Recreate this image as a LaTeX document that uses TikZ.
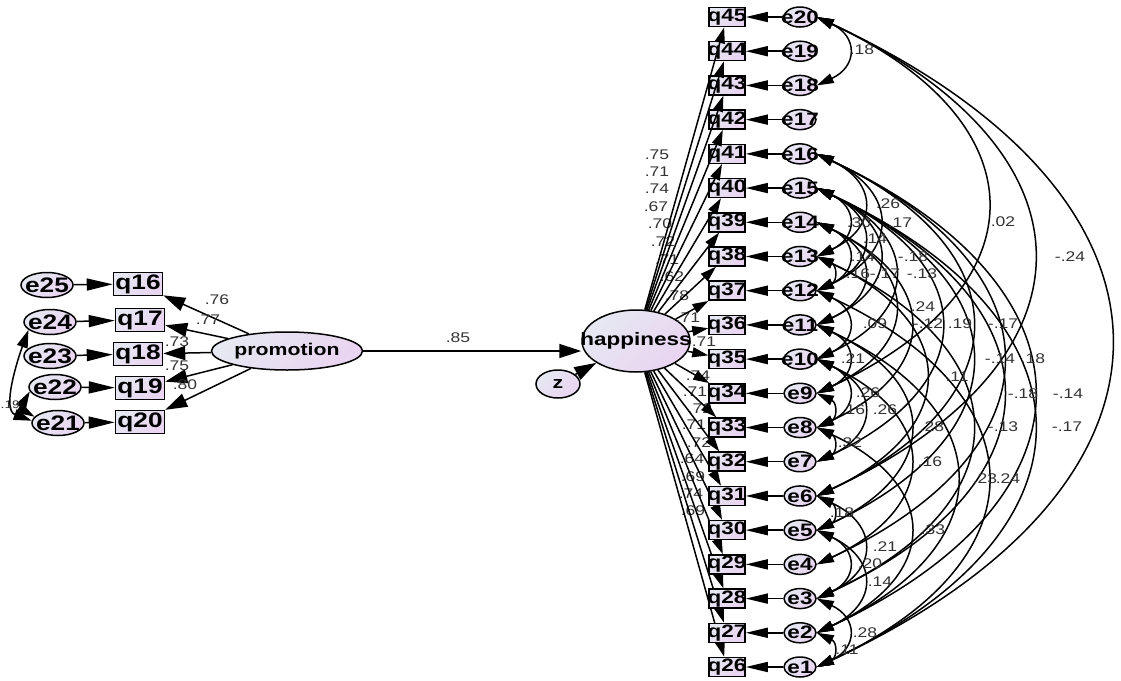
\documentclass[tikz,border=0pt]{standalone}
\usepackage{fontspec}
\setmainfont{Liberation Sans}[FakeStretch=1.25]
\usetikzlibrary{arrows.meta,shapes.geometric}
\definecolor{gA}{HTML}{E6E8F2}
\definecolor{gB}{HTML}{E9D4F1}
\begin{document}
\begin{tikzpicture}[x=1pt,y=-1pt,line width=1.5pt,
  shadefill/.style={left color=gA,right color=gB,shading angle=45},
  lat/.style={ellipse,draw,shadefill,inner sep=0pt,font=\fontsize{17}{17}\selectfont\bfseries},
  obsL/.style={rectangle,draw,shadefill,minimum width=49pt,minimum height=23pt,inner sep=0pt,font=\fontsize{21}{21}\selectfont\bfseries},
  errL/.style={ellipse,draw,shadefill,minimum width=52pt,minimum height=25pt,inner sep=0pt,font=\fontsize{21}{21}\selectfont\bfseries},
  obsR/.style={rectangle,draw,shadefill,minimum width=36pt,minimum height=19pt,inner sep=0pt,font=\fontsize{18}{18}\selectfont\bfseries},
  errR/.style={ellipse,draw,shadefill,minimum width=32pt,minimum height=20pt,inner sep=0pt,font=\fontsize{18}{18}\selectfont\bfseries},
  lbl/.style={inner sep=0pt,font=\fontsize{14}{14}\selectfont,text=black!80},
  ldL/.style={-{Triangle[length=22pt,width=14pt]}},
  erL/.style={-{Triangle[length=26pt,width=12pt]}},
  ldR/.style={-{Triangle[length=16pt,width=10pt]}},
  erR/.style={-{Triangle[length=22pt,width=10pt]}},
  cv/.style={{Triangle[length=17pt,width=10pt]}-{Triangle[length=17pt,width=10pt]}},
  cvL/.style={{Triangle[length=18pt,width=11pt]}-{Triangle[length=18pt,width=11pt]}}
]
\useasboundingbox (0,0) rectangle (1121,680);

% ---------- left part ----------
\node[lat,minimum width=151pt,minimum height=38pt] (prom) at (287,351) {\makebox[0pt]{promotion}};
\node[obsL] (q16) at (138,284) {\makebox[0pt]{q16}};
\node[obsL] (q17) at (140,320) {\makebox[0pt]{q17}};
\node[obsL] (q18) at (138,354) {\makebox[0pt]{q18}};
\node[obsL] (q19) at (140,388) {\makebox[0pt]{q19}};
\node[obsL] (q20) at (140,422) {\makebox[0pt]{q20}};
\node[errL] (e25) at (47,285) {\makebox[0pt]{e25}};
\node[errL] (e24) at (50,322) {\makebox[0pt]{e24}};
\node[errL] (e23) at (50,356) {\makebox[0pt]{e23}};
\node[errL] (e22) at (55,387) {\makebox[0pt]{e22}};
\node[errL] (e21) at (58,423) {\makebox[0pt]{e21}};

\foreach \n in {16,...,20}{\draw[ldL] (prom) -- (q\n);}
\draw[erL] (e25) -- (q16);
\draw[erL] (e24) -- (q17);
\draw[erL] (e23) -- (q18);
\draw[erL] (e22) -- (q19);
\draw[erL] (e21) -- (q20);
\draw[cvL] (e24.200) to[out=250,in=160,looseness=0.9] (e21.175);
\draw[cvL] (e22.190) to[out=240,in=150,looseness=0.9] (e21.165);

\node[lbl] (l76) at (217,300) {.76};
\node[lbl] (l77) at (208,320) {.77};
\node[lbl] (l73) at (177,342) {.73};
\node[lbl] (l75) at (177,366) {.75};
\node[lbl] (l80) at (185,385) {.80};
\node[lbl,anchor=west,font=\fontsize{11}{11}\selectfont] (lcl) at (0,405) {.19};

% ---------- centre ----------
\node[lat,minimum width=108pt,minimum height=62pt,font=\fontsize{18}{18}\selectfont\bfseries] (hap) at (636,341) {\makebox[0pt]{happiness}};
\node[lat,minimum width=44pt,minimum height=28pt] (z) at (558,384) {\makebox[0pt]{z}};
\draw[ldL] (prom.east) -- (prom.east -| hap.west);
\draw[ldL] (z) -- (hap);
\node[lbl] (l85) at (458,338) {.85};

% ---------- loading labels (right) ----------
\foreach \x/\y/\t [count=\i] in {657/155/.75,657/172/.71,657/189/.74,656/207/.67,660/224/.70,663/242/.72,667/260/.71,672/277/.62,677/296/.78,688/318/.71,
  704/342/.71,698/376/.74,695/392/.71,700/409/.72,694/425/.71,699/443/.72,692/459/.64,693/477/.69,691/494/.74,693/511/.69}
  {\node[lbl] (ll\i) at (\x,\y) {\t};}

% ---------- right columns ----------
\foreach \k in {1,...,20}{
  \pgfmathsetmacro\yy{667-34.21*(\k-1)}
  \pgfmathtruncatemacro\qn{25+\k}
  \node[obsR] (q\qn) at (727,\yy) {\makebox[0pt]{q\qn}};
  \node[errR] (e\k) at (800,\yy) {\makebox[0pt]{e\k}};
  \draw[erR] (e\k) -- (q\qn);
  \draw[ldR] (hap) -- (q\qn);
}

% ---------- covariances ----------
\foreach \a/\b in {20/18,16/13,15/13,16/12,15/12,20/9,14/12,15/11,15/10,13/12,14/11,20/6,14/9,12/10,14/8,15/7,16/6,11/9,15/5,16/4,13/6,15/3,16/2,10/8,9/8,10/7,11/5,13/3,15/1,8/7,10/4,11/2,12/1,6/5,8/2,6/3,5/3,5/2,3/1,2/1,20/1}
  {\draw[cv] (e\a.east) to[out=-25,in=25,looseness=1.7] (e\b.east);}

\foreach \x/\y/\t [count=\i] in {862/50/.18,888/204/.26,859/223/.30,900/223/.17,875/239/.14,1003/222/.02,863/257/.14,913/257/-.18,922/274/-.13,858/274/.16,
  885/274/-.17,1070/257/-.24,923/307/.24,875/324/.09,928/324/-.12,960/324/.19,1003/324/-.17,853/359/.21,1000/359/-.14,1033/359/.18,
  957/377/.11,1023/394/-.18,1068/394/-.14,868/393/.26,853/410/.16,885/410/.26,932/427/.28,1003/427/-.13,1067/427/-.17,850/443/.32,
  930/462/.16,985/479/.23,1008/479/.24,842/513/.18,933/530/.33,885/547/.21,870/564/.20,880/582/.14,865/633/.28,847/650/.11}
  {\node[lbl] (cl\i) at (\x,\y) {\t};}
\end{tikzpicture}
\end{document}
